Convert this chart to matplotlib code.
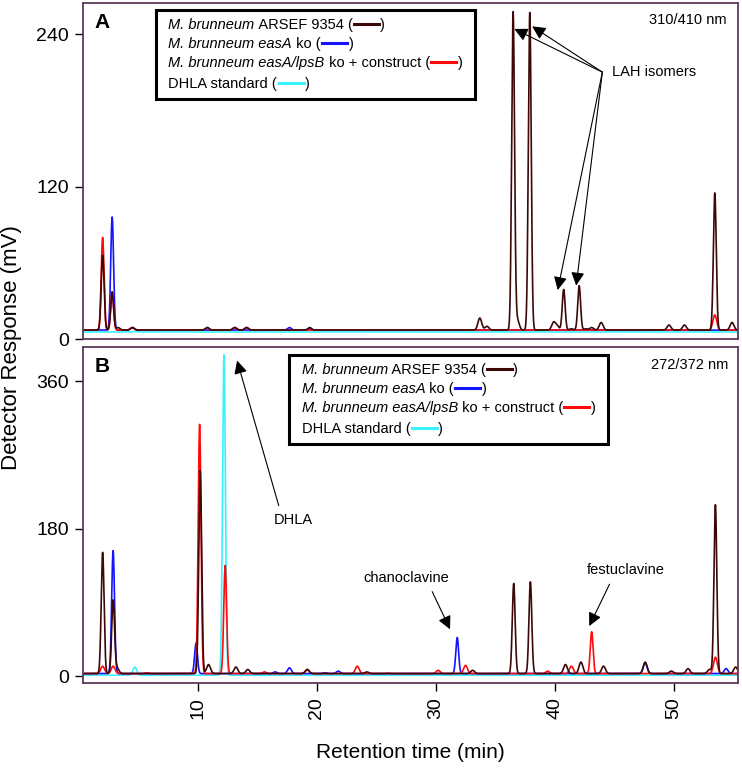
import numpy as np
import matplotlib
matplotlib.use("Agg")
import matplotlib.pyplot as plt
from matplotlib.lines import Line2D
from matplotlib.offsetbox import TextArea, DrawingArea, HPacker, VPacker, AnchoredOffsetbox

plt.rcParams['font.family'] = ['Liberation Sans', 'DejaVu Sans']

# --- data: peak retention times (min) and apex heights (mV)
# panel A, 310/410 nm
brown_a_t = [2.0, 2.8, 3.3, 4.5, 10.8, 13.1, 14.1, 19.4, 33.7, 34.3, 36.5, 36.85, 37.9,
             39.9, 40.2, 40.75, 41.4, 42.05, 42.6, 43.1, 43.9, 49.6, 50.9, 53.45, 54.9]
brown_a_h = [66, 37, 9, 9, 9, 9, 9, 9, 16.5, 10, 257, 15, 257,
             13, 10, 39, 8, 42, 8, 9, 13, 11, 11, 115, 13]
red_a_t = [2.0, 2.8, 4.5, 10.8, 13.1, 14.1, 53.45]
red_a_h = [80, 37, 9, 9, 9, 9, 19]
blue_a_t = [2.8, 4.5, 17.7, 19.4]
blue_a_h = [96, 9, 9, 8]
cyan_a_t = [4.7]
cyan_a_h = [6]
base_a = {'brown': 7, 'red': 7, 'blue': 7, 'cyan': 5.5}

# panel B, 272/372 nm
brown_b_t = [2.0, 2.88, 3.2, 10.2, 10.9, 13.2, 14.2, 19.2, 24.2, 33.1, 36.55, 37.95,
             40.9, 42.2, 44.1, 47.6, 49.8, 51.2, 53.0, 53.5, 55.2]
brown_b_h = [151, 92, 10, 251, 14, 11, 8, 8, 5, 7, 113, 115,
             14, 17, 12, 17, 6, 9, 8, 209, 11]
red_b_t = [2.0, 2.88, 5.7, 10.15, 12.3, 15.6, 19.2, 23.4, 25.9, 30.2, 32.5, 39.4,
           41.4, 43.1, 53.5]
red_b_h = [12, 12, 4, 307, 135, 5, 8, 12, 3.5, 7, 13, 6, 12, 54, 23]
blue_b_t = [2.88, 9.85, 16.5, 17.7, 20.7, 21.8, 31.8, 47.6, 54.4]
blue_b_h = [153, 40, 5, 10, 4, 6, 47, 16, 9]
cyan_b_t = [4.7, 12.2]
cyan_b_h = [11, 392]
base_b = {'brown': 3, 'red': 3, 'blue': 3, 'cyan': 1}

legend_italic = ["M. brunneum", "M. brunneum easA", "M. brunneum easA/lpsB", ""]
legend_plain = [" ARSEF 9354 (", " ko (", " ko + construct (", "DHLA standard ("]

colors = {'brown': '#3c0808', 'red': '#ff0a0a', 'blue': '#1414ff', 'cyan': '#38f2ff'}
frame_col = '#5a3a5c'

W, H = 742, 768
fig = plt.figure(figsize=(W / 100, H / 100), dpi=100)
ax_a = fig.add_axes([83 / W, 1 - 339 / H, 655 / W, 336 / H])
ax_b = fig.add_axes([83 / W, 1 - 683 / H, 655 / W, 336 / H])

t = np.linspace(0, 56, 5000)


def trace(times, heights, base):
    y = np.full_like(t, base, dtype=float)
    for tt, hh in zip(times, heights):
        amp = hh - base
        sig = 0.12 if amp > 25 else 0.16
        y += amp * np.exp(-0.5 * ((t - tt) / sig) ** 2)
    return y


def draw_panel(ax, series, base):
    # cyan underneath, brown on top
    for key in ['cyan', 'blue', 'red', 'brown']:
        tt, hh = series[key]
        ax.plot(t, trace(tt, hh, base[key]), color=colors[key], lw=1.2)


draw_panel(ax_a, {'brown': (brown_a_t, brown_a_h), 'red': (red_a_t, red_a_h),
                  'blue': (blue_a_t, blue_a_h), 'cyan': (cyan_a_t, cyan_a_h)}, base_a)
draw_panel(ax_b, {'brown': (brown_b_t, brown_b_h), 'red': (red_b_t, red_b_h),
                  'blue': (blue_b_t, blue_b_h), 'cyan': (cyan_b_t, cyan_b_h)}, base_b)

for ax in (ax_a, ax_b):
    ax.set_xlim(0.35, 55.4)
    for sp in ax.spines.values():
        sp.set_color(frame_col)
        sp.set_linewidth(1.3)
    ax.tick_params(axis='y', length=6, width=1, labelsize=14, pad=4, color='black')
    ax.tick_params(axis='x', length=6, width=1, labelsize=14, pad=4, color='black',
                   labelrotation=90)

ax_a.set_ylim(0, 264.4)
ax_a.set_yticks([0, 120, 240])
ax_a.set_xticks([])
ax_b.set_ylim(-8.5, 401.5)
ax_b.set_yticks([0, 180, 360])
ax_b.set_xticks([10, 20, 30, 40, 50])

ax_a.text(0.018, 0.97, 'A', transform=ax_a.transAxes, fontsize=15, fontweight='bold', va='top')
ax_b.text(0.018, 0.97, 'B', transform=ax_b.transAxes, fontsize=15, fontweight='bold', va='top')
ax_a.text(0.982, 0.97, '310/410 nm', transform=ax_a.transAxes, fontsize=10.5, ha='right', va='top')
ax_b.text(0.985, 0.967, '272/372 nm', transform=ax_b.transAxes, fontsize=10.5, ha='right', va='top')

arrow = dict(arrowstyle='-|>', color='black', lw=0.8, mutation_scale=20, shrinkA=0, shrinkB=0)

# LAH isomers
ax_a.text(44.8, 210, 'LAH isomers', fontsize=10.5, ha='left', va='center')
for tip in [(36.6, 244), (38.1, 246), (40.25, 38.5), (41.8, 42)]:
    ax_a.annotate('', xy=tip, xytext=(44.0, 210), arrowprops=arrow)

ax_b.annotate('', xy=(13.3, 385), xytext=(16.8, 208), arrowprops=arrow)
ax_b.text(18.0, 190, 'DHLA', fontsize=10.5, ha='center', va='center')
ax_b.annotate('', xy=(31.2, 57), xytext=(29.7, 103), arrowprops=arrow)
ax_b.text(27.5, 120, 'chanoclavine', fontsize=10.5, ha='center', va='center')
ax_b.annotate('', xy=(42.9, 61), xytext=(44.6, 112), arrowprops=arrow)
ax_b.text(46.0, 129, 'festuclavine', fontsize=10.5, ha='center', va='center')


def legend_box(ax, x_px, y_px):
    rows = []
    for it, pl, key in zip(legend_italic, legend_plain, ['brown', 'blue', 'red', 'cyan']):
        parts = []
        if it:
            parts.append(TextArea(it, textprops=dict(style='italic', fontsize=10.5)))
        parts.append(TextArea(pl, textprops=dict(fontsize=10.5)))
        da = DrawingArea(20, 8, 0, 0)
        da.add_artist(Line2D([1, 19], [3.6, 3.6], color=colors[key], lw=2.2))
        parts.append(da)
        parts.append(TextArea(")", textprops=dict(fontsize=10.5)))
        rows.append(HPacker(children=parts, align='baseline', pad=0, sep=0))
    top = VPacker(children=rows[:3], align='left', pad=0, sep=3.2)
    body = VPacker(children=[top, rows[3]], align='left', pad=0, sep=5)
    body = HPacker(children=[DrawingArea(3, 1), body, DrawingArea(3, 1)], align='center', pad=0, sep=0)
    box = AnchoredOffsetbox(loc='upper left', child=body, pad=0.6, borderpad=0, frameon=True,
                            bbox_to_anchor=(x_px / W, 1 - y_px / H),
                            bbox_transform=fig.transFigure)
    box.patch.set_linewidth(2.2)
    box.patch.set_edgecolor('black')
    ax.add_artist(box)


legend_box(ax_a, 156, 10)
legend_box(ax_b, 289, 355)

fig.text(12 / W, 1 - 348 / H, 'Detector Response (mV)', rotation=90, fontsize=16,
         ha='center', va='center')
fig.text(410 / W, 1 - 752 / H, 'Retention time (min)', fontsize=15, ha='center', va='center')

fig.savefig('out.png', dpi=100)
